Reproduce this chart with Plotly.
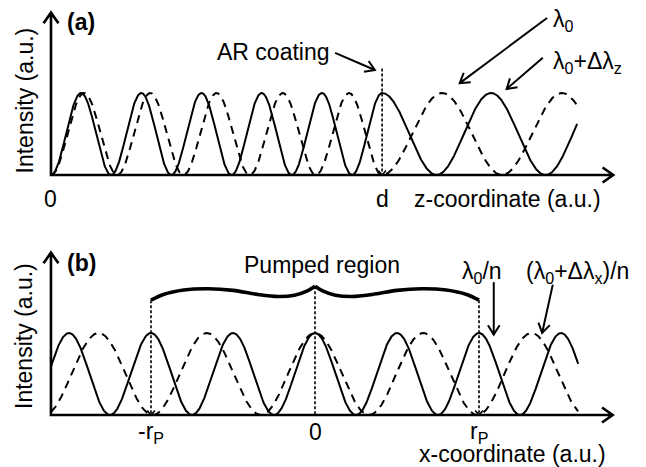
import numpy as np
import plotly.graph_objects as go

# ---------------- panel (a): standing waves along z ----------------
# z measured in inner periods of the λ0 pattern
z_end_a = 8.74          # where both curves stop
d_pos = 5.5             # AR-coated facet position
period_l0_in = 1.00     # λ0 pattern period inside the medium
period_l1_in = 1.10     # (λ0+Δλz) pattern period inside the medium
n_index = 1.81          # period stretch factor outside the medium
z_axis_end = 9.34
int_axis_top = 1.98
ar_line_top = 1.30

# ---------------- panel (b): transverse standing waves ----------------
x_start_b = -3.22
x_end_b = 3.21
period_l0_b = 1.00
period_l1_b = 1.32
r_p = 2.0
x_axis_end_b = 3.63

# half of the "pumped region" brace (mirrored for the right half)
brace_x = [-2.0, -1.85, -1.6, -1.3, -1.0, -0.7, -0.45, -0.25, -0.1, 0.0]
brace_y = [1.40, 1.47, 1.525, 1.54, 1.52, 1.47, 1.445, 1.46, 1.51, 1.57]

FONT = "Liberation Sans, Arial, sans-serif"
FS = 23
W, H = 646, 467
AXIS_W = 2.6

# plot ranges with some room around the drawn axes
XR_A = [-0.847, 9.884]
YR_A = [-0.7134, 2.1341]
XR_B = [-3.8415, 4.0366]
YR_B = [-0.6341, 2.2134]

fig = go.Figure()

def info(panel):
    if panel == "a":
        return XR_A, YR_A, [0.5, 1.0], "x", "y"
    return XR_B, YR_B, [0.0, 0.5], "x2", "y2"

def px_scale(panel):
    xr, yr, ydom, _, _ = info(panel)
    return W / (xr[1] - xr[0]), H * (ydom[1] - ydom[0]) / (yr[1] - yr[0])

def curve(panel, xs, ys, width=2.0, dash=None, shape="linear"):
    _, _, _, xa, ya = info(panel)
    fig.add_trace(go.Scatter(
        x=list(xs), y=list(ys), mode="lines", xaxis=xa, yaxis=ya, hoverinfo="skip",
        line=dict(color="#000000", width=width, dash=dash, shape=shape),
        cliponaxis=False, showlegend=False))

def head_pts(panel, x0, y0, x1, y1, head, ang):
    """Two arm end points of an open arrowhead at (x1, y1)."""
    sx, sy = px_scale(panel)
    vx, vy = (x1 - x0) * sx, (y1 - y0) * sy
    L = np.hypot(vx, vy)
    ux, uy = vx / L, vy / L
    pts = []
    for s in (1, -1):
        a = np.deg2rad(ang) * s
        rx = ux * np.cos(a) - uy * np.sin(a)
        ry = ux * np.sin(a) + uy * np.cos(a)
        pts.append((float(x1 - head * rx / sx), float(y1 - head * ry / sy)))
    return pts

def arrow(panel, x0, y0, x1, y1, width=2.0, head=11, ang=32, shaft=True):
    if shaft:
        curve(panel, [x0, x1], [y0, y1], width=width)
    (ax_, ay_), (bx_, by_) = head_pts(panel, x0, y0, x1, y1, head, ang)
    curve(panel, [ax_, x1, bx_], [ay_, y1, by_], width=width)

def axes_frame(panel, x0, y0, x_end, y_top):
    """Both axes of a panel as one connected polyline with open arrowheads."""
    (tl, tr) = head_pts(panel, x0, y0, x0, y_top, 13, 35)
    (rl, rr) = head_pts(panel, x0, y0, x_end, y0, 13, 35)
    xs = [tl[0], x0, tr[0], x0, x0, x_end, rl[0], x_end, rr[0]]
    ys = [tl[1], y_top, tr[1], y_top, y0, y0, rl[1], y0, rr[1]]
    curve(panel, xs, ys, width=AXIS_W)

def label(panel, x, y, text, xanchor="center", size=FS, angle=0):
    _, _, _, xa, ya = info(panel)
    fig.add_annotation(x=x, y=y, xref=xa, yref=ya, text=text,
                       showarrow=False, xanchor=xanchor, yanchor="middle",
                       textangle=angle,
                       font=dict(family=FONT, size=size, color="black"))

# ---- panel (a) curves
z = np.linspace(0, z_end_a, 1500)
inside = z <= d_pos
solid_a = np.where(inside, np.sin(np.pi * z / period_l0_in) ** 2,
                   np.cos(np.pi * (z - d_pos) / (period_l0_in * n_index)) ** 2)
dash_a = np.where(inside, np.sin(np.pi * z / period_l1_in) ** 2,
                  np.sin(np.pi * (z - d_pos) / (period_l1_in * n_index)) ** 2)
curve("a", z, solid_a, width=2.0)
curve("a", z, dash_a, width=2.0, dash="8px,6px")

axes_frame("a", 0.0, 0.0, z_axis_end, int_axis_top)

# AR coating marker
curve("a", [d_pos, d_pos], [ar_line_top, 0.02], width=1.6, dash="3px,2px")
arrow("a", d_pos, 0.2, d_pos, 0.0, width=1.6, head=6, ang=40, shaft=False)
arrow("a", 4.72, 1.49, 5.38, 1.28, width=2.0)
arrow("a", 8.24, 1.915, 6.79, 1.12, width=2.0)
arrow("a", 8.17, 1.43, 7.57, 1.05, width=2.0)

label("a", 3.70, 1.50, "AR coating")
label("a", 8.30, 1.89, "λ<sub>0</sub>", xanchor="left")
label("a", 8.30, 1.37, "λ<sub>0</sub>+Δλ<sub>z</sub>", xanchor="left")
label("a", 0.50, 1.87, "<b>(a)</b>")
label("a", -0.43, 0.91, "Intensity (a.u.)", angle=-90)
label("a", 0.0, -0.29, "0")
label("a", d_pos, -0.29, "d")
label("a", 7.59, -0.29, "z-coordinate (a.u.)")

# ---- panel (b) curves
xb = np.linspace(x_start_b, x_end_b, 1500)
solid_b = np.cos(np.pi * xb / period_l0_b) ** 2
dash_b = np.cos(np.pi * xb / period_l1_b) ** 2
curve("b", xb, solid_b, width=2.0)
curve("b", xb, dash_b, width=2.0, dash="8px,6px")

axes_frame("b", x_start_b, 0.0, x_axis_end_b, int_axis_top)

# pumped-region brace
bx = np.array(brace_x)
by = np.array(brace_y)
curve("b", bx, by, width=3.6, shape="spline")
curve("b", -bx[::-1], by[::-1], width=3.6, shape="spline")

for xv in (-r_p, r_p):
    curve("b", [xv, xv], [brace_y[0], 0.02], width=1.6, dash="3px,2px")
    arrow("b", xv, 0.2, xv, 0.0, width=1.6, head=6, ang=40, shaft=False)
curve("b", [0, 0], [brace_y[-1], 0.0], width=1.6, dash="3px,2px")

arrow("b", 2.18, 1.62, 2.18, 0.98, width=2.0)
arrow("b", 2.90, 1.59, 2.77, 1.00, width=2.0)

label("b", 0.09, 1.83, "Pumped region")
label("b", 2.04, 1.74, "λ<sub>0</sub>/n")
label("b", 3.20, 1.74, "(λ<sub>0</sub>+Δλ<sub>x</sub>)/n")
label("b", -2.85, 1.85, "<b>(b)</b>")
label("b", -3.54, 0.96, "Intensity (a.u.)", angle=-90)
label("b", -r_p, -0.21, "-r<sub>P</sub>")
label("b", 0.0, -0.21, "0")
label("b", r_p, -0.21, "r<sub>P</sub>")
label("b", 2.41, -0.48, "x-coordinate (a.u.)")

hidden = dict(visible=False, fixedrange=True)
fig.update_layout(
    width=W, height=H, autosize=False,
    margin=dict(l=0, r=0, t=0, b=0),
    paper_bgcolor="white", plot_bgcolor="white",
    showlegend=False,
    xaxis=dict(domain=[0, 1], range=XR_A, anchor="y", **hidden),
    yaxis=dict(domain=[0.5, 1], range=YR_A, anchor="x", **hidden),
    xaxis2=dict(domain=[0, 1], range=XR_B, anchor="y2", **hidden),
    yaxis2=dict(domain=[0, 0.5], range=YR_B, anchor="x2", **hidden),
)

fig.write_html("out.html")
